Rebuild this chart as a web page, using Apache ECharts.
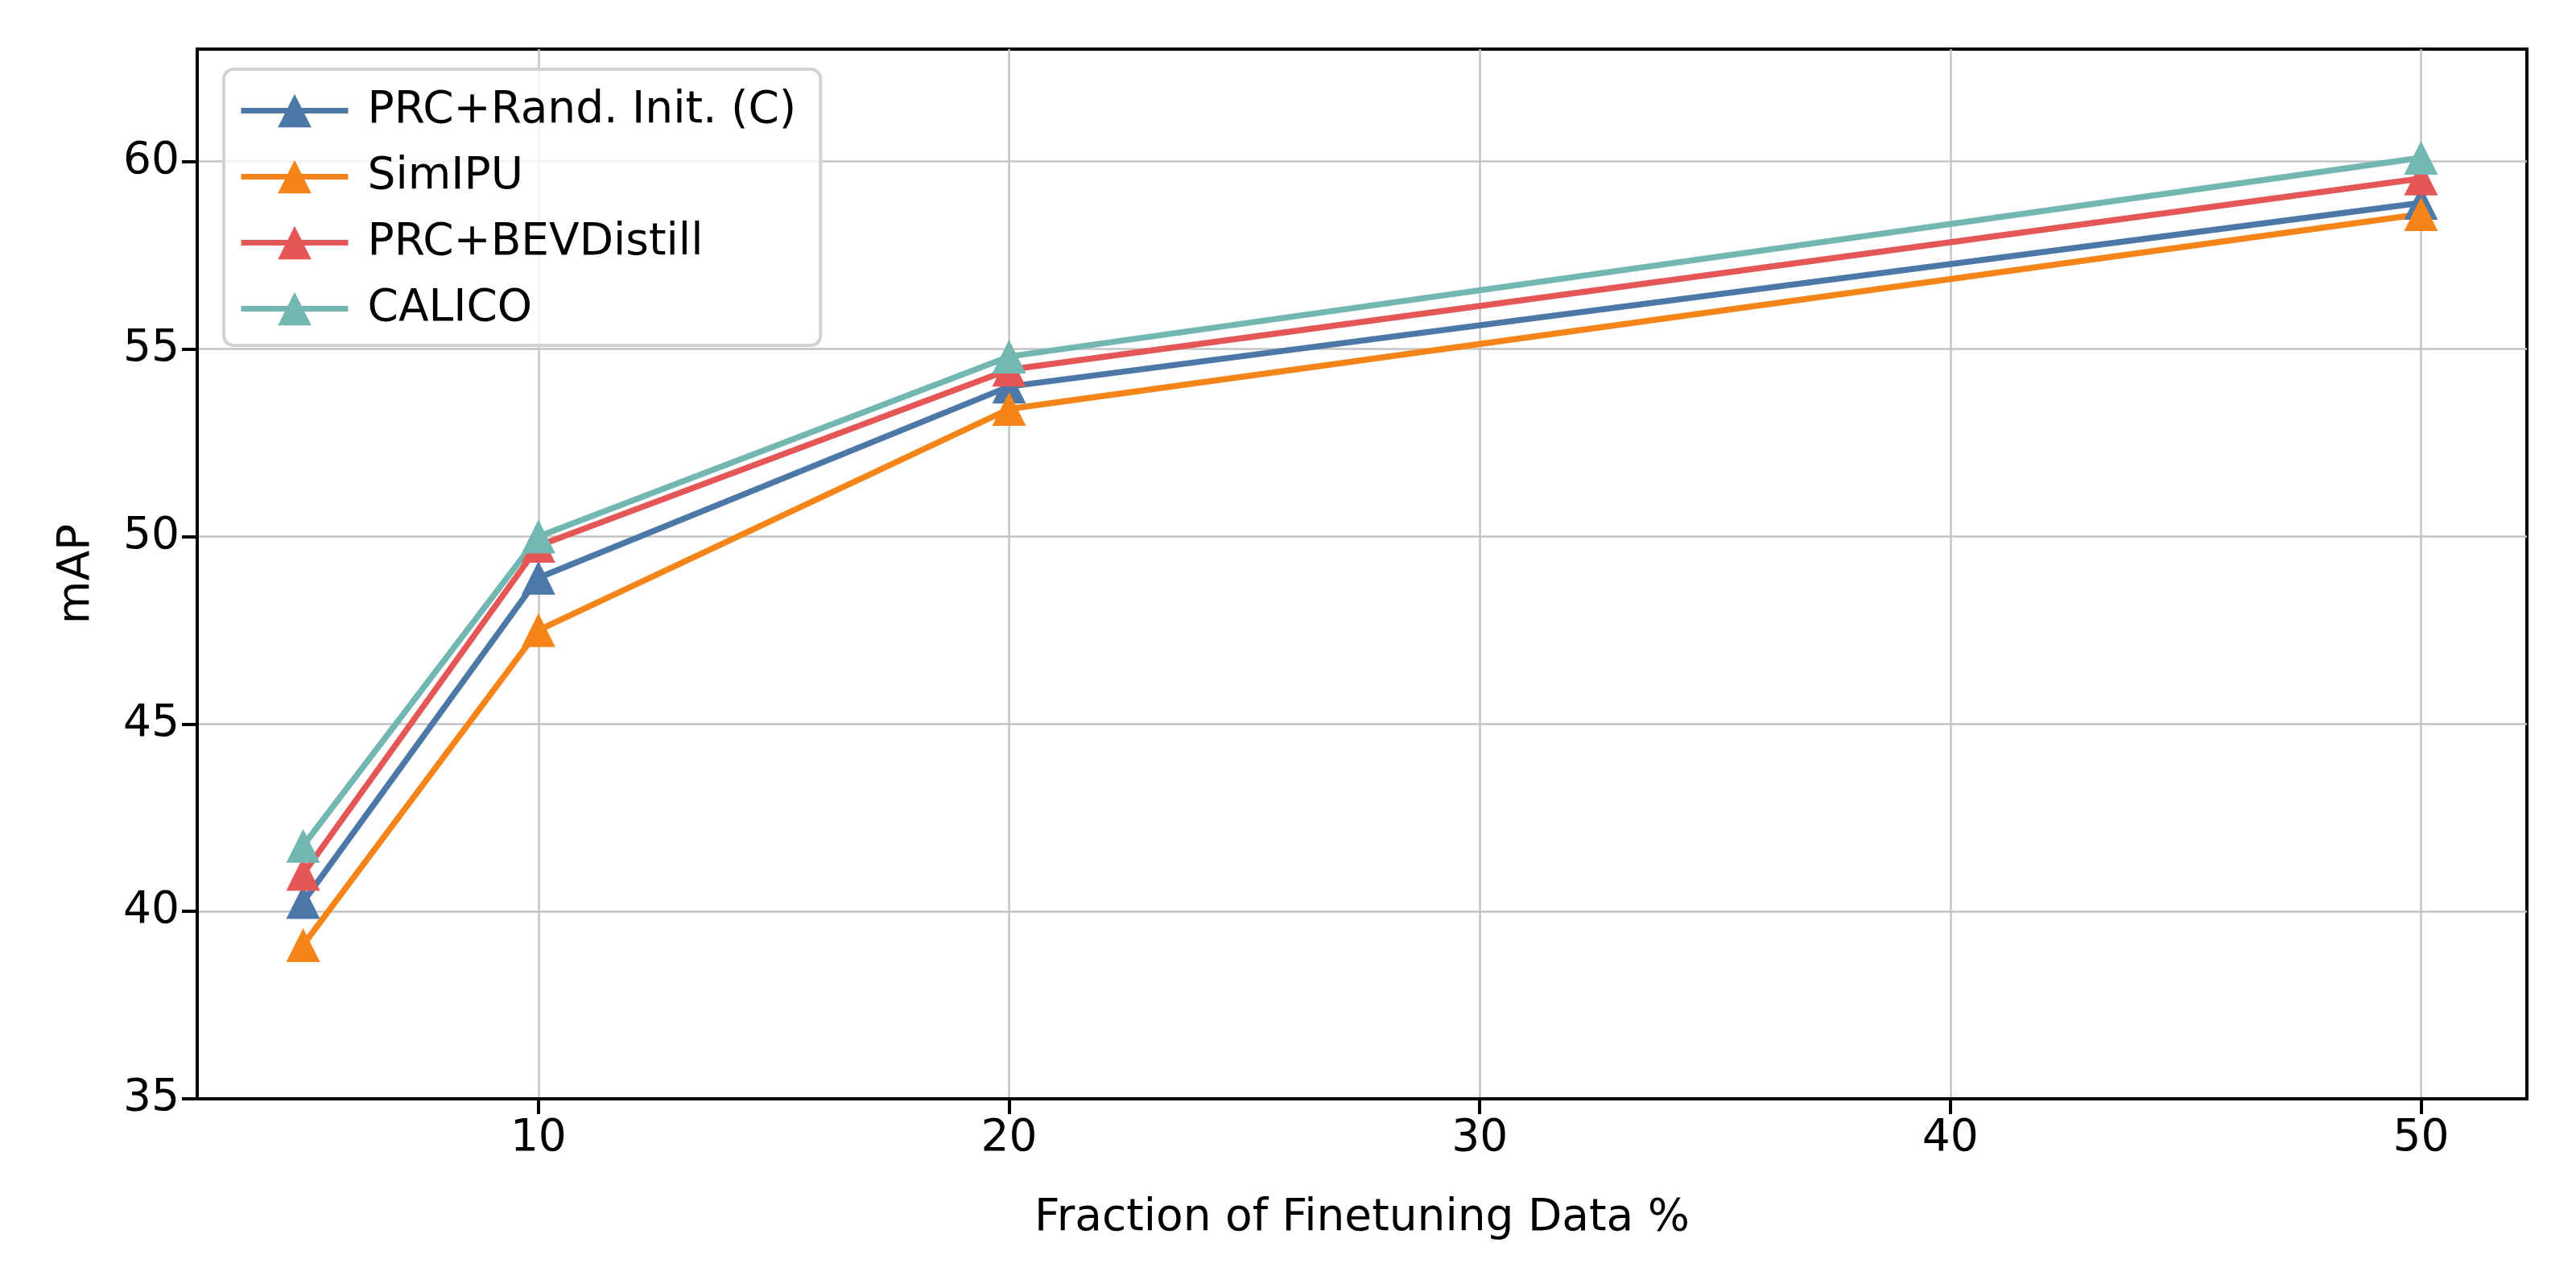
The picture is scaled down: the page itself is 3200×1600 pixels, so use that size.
<!DOCTYPE html>
<html><head><meta charset="utf-8">
<script src="https://cdn.jsdelivr.net/npm/echarts@6/dist/echarts.min.js"></script>
<style>html,body{margin:0;padding:0;background:#fff}#c{width:3200px;height:1600px}</style>
</head><body><div id="c"></div>
<script>
const fractions = [5, 10, 20, 50];
const seriesNames = ['PRC+Rand. Init. (C)', 'SimIPU', 'PRC+BEVDistill', 'CALICO'];
const randInit = [40.25, 48.9, 54.0, 58.9];
const simIPU = [39.1, 47.5, 53.4, 58.6];
const bevDistill = [41.0, 49.75, 54.45, 59.55];
const calico = [41.75, 50.0, 54.8, 60.1];
const xTicks = [10, 20, 30, 40, 50];
const yTicks = [35, 40, 45, 50, 55, 60];
const colors = ['#4c78a8', '#f58518', '#e45756', '#72b7b2'];

const values = [randInit, simIPU, bevDistill, calico];
const font = 'DejaVu Sans';
const chart = echarts.init(document.getElementById('c'));
chart.setOption({
  animation: false,
  backgroundColor: '#fff',
  grid: { left: 245, right: 61, top: 61, bottom: 235, show: true, borderColor: '#000', borderWidth: 4, backgroundColor: 'transparent' },
  legend: {
    orient: 'vertical', left: 278, top: 86,
    padding: [24, 30, 18, 18],
    itemWidth: 133, itemHeight: 52, itemGap: 27,
    backgroundColor: 'rgba(255,255,255,0.8)',
    borderColor: '#d3d3d3', borderWidth: 4, borderRadius: 12,
    lineStyle: { width: 7 },
    textStyle: { fontFamily: font, fontSize: 55, color: '#000', padding: [0, 0, 0, 19] },
    data: seriesNames
  },
  xAxis: {
    type: 'value', min: 2.75, max: 52.25,
    name: 'Fraction of Finetuning Data %', nameLocation: 'middle', nameGap: 121,
    nameTextStyle: { fontFamily: font, fontSize: 55, color: '#000' },
    axisLine: { show: true, lineStyle: { color: '#000', width: 4 } },
    axisTick: { show: true, length: 19, lineStyle: { color: '#000', width: 4 }, customValues: xTicks },
    axisLabel: { fontFamily: font, fontSize: 55, color: '#000', margin: 22, customValues: xTicks },
    splitLine: { show: true, lineStyle: { color: '#c4c4c4', width: 2.5 } }
  },
  yAxis: {
    type: 'value', min: 35, max: 63,
    name: 'mAP', nameLocation: 'middle', nameGap: 122, nameRotate: 90,
    nameTextStyle: { fontFamily: font, fontSize: 55, color: '#000' },
    axisLine: { show: true, lineStyle: { color: '#000', width: 4 } },
    axisTick: { show: true, length: 19, lineStyle: { color: '#000', width: 4 }, customValues: yTicks },
    axisLabel: { fontFamily: font, fontSize: 55, color: '#000', margin: 22, customValues: yTicks },
    splitLine: { show: true, lineStyle: { color: '#c4c4c4', width: 2.5 } }
  },
  series: seriesNames.map((n, i) => ({
    name: n, type: 'line',
    data: fractions.map((x, j) => [x, values[i][j]]),
    symbol: 'triangle', symbolSize: 42, showSymbol: true,
    lineStyle: { color: colors[i], width: 7.5 },
    itemStyle: { color: colors[i], borderWidth: 0 },
    emphasis: { disabled: true }
  }))
});
</script></body></html>
